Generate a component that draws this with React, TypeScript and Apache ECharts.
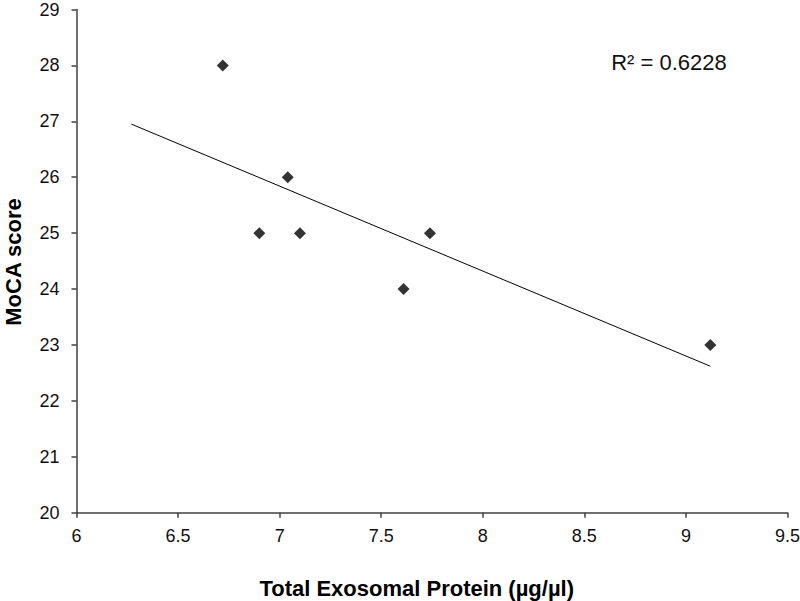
import React, { useEffect, useRef } from "react";
import * as echarts from "echarts";

const proteinValues: number[] = [6.72, 7.04, 6.9, 7.1, 7.74, 7.61, 9.12];
const mocaScores: number[] = [28, 26, 25, 25, 25, 24, 23];
const trendX: number[] = [6.27, 9.12];
const trendY: number[] = [26.95, 22.62];
const r2Label = "R² = 0.6228";
const xTitle = "Total Exosomal Protein (µg/µl)";
const yTitle = "MoCA score";

const FONT = "'Liberation Sans', Arial, sans-serif";
const AXIS_COLOR = "#404040";

export default function App() {
  const ref = useRef<HTMLDivElement | null>(null);

  useEffect(() => {
    if (!ref.current) return;
    const chart = echarts.init(ref.current, undefined, { renderer: "svg" });
    const points = proteinValues.map((x, i) => [x, mocaScores[i]]);
    const trend = trendX.map((x, i) => [x, trendY[i]]);
    chart.setOption({
      animation: false,
      backgroundColor: "#ffffff",
      textStyle: { fontFamily: FONT },
      grid: {
        left: 76.5,
        right: 12.5,
        top: 9.5,
        bottom: 88.3,
        containLabel: false,
        outerBoundsMode: "none",
      },
      xAxis: {
        type: "value",
        min: 6,
        max: 9.5,
        interval: 0.5,
        splitLine: { show: false },
        axisLine: { show: true, lineStyle: { color: AXIS_COLOR, width: 1.5 } },
        axisTick: { show: true, inside: false, length: 5, lineStyle: { color: AXIS_COLOR, width: 1.5 } },
        axisLabel: { color: "#111", fontSize: 18, fontFamily: FONT, margin: 14 },
      },
      yAxis: {
        type: "value",
        min: 20,
        max: 29,
        interval: 1,
        splitLine: { show: false },
        axisLine: { show: true, lineStyle: { color: AXIS_COLOR, width: 1.5 } },
        axisTick: { show: true, inside: false, length: 5, lineStyle: { color: AXIS_COLOR, width: 1.5 } },
        axisLabel: { color: "#111", fontSize: 18, fontFamily: FONT, margin: 17 },
      },
      series: [
        {
          type: "line",
          data: trend,
          showSymbol: false,
          symbol: "none",
          lineStyle: { color: "#000", width: 1 },
          silent: true,
          z: 2,
        },
        {
          type: "scatter",
          data: points,
          symbol: "diamond",
          symbolSize: 12,
          itemStyle: { color: "#000" },
          z: 3,
        },
      ],
      graphic: [
        {
          type: "text",
          x: 416.7,
          y: 588,
          style: {
            text: xTitle,
            font: `bold 22px ${FONT}`,
            fill: "#000",
            align: "center",
            verticalAlign: "middle",
          },
        },
        {
          type: "text",
          x: 13,
          y: 262,
          rotation: Math.PI / 2,
          style: {
            text: yTitle,
            font: `bold 22px ${FONT}`,
            fill: "#000",
            align: "center",
            verticalAlign: "middle",
          },
        },
        {
          type: "text",
          x: 669,
          y: 62,
          style: {
            text: r2Label,
            font: `22px ${FONT}`,
            fill: "#111",
            align: "center",
            verticalAlign: "middle",
          },
        },
      ],
    });
    return () => chart.dispose();
  }, []);

  return (
    <div
      ref={ref}
      style={{ position: "fixed", left: 0, top: 0, width: 800, height: 601 }}
    />
  );
}
